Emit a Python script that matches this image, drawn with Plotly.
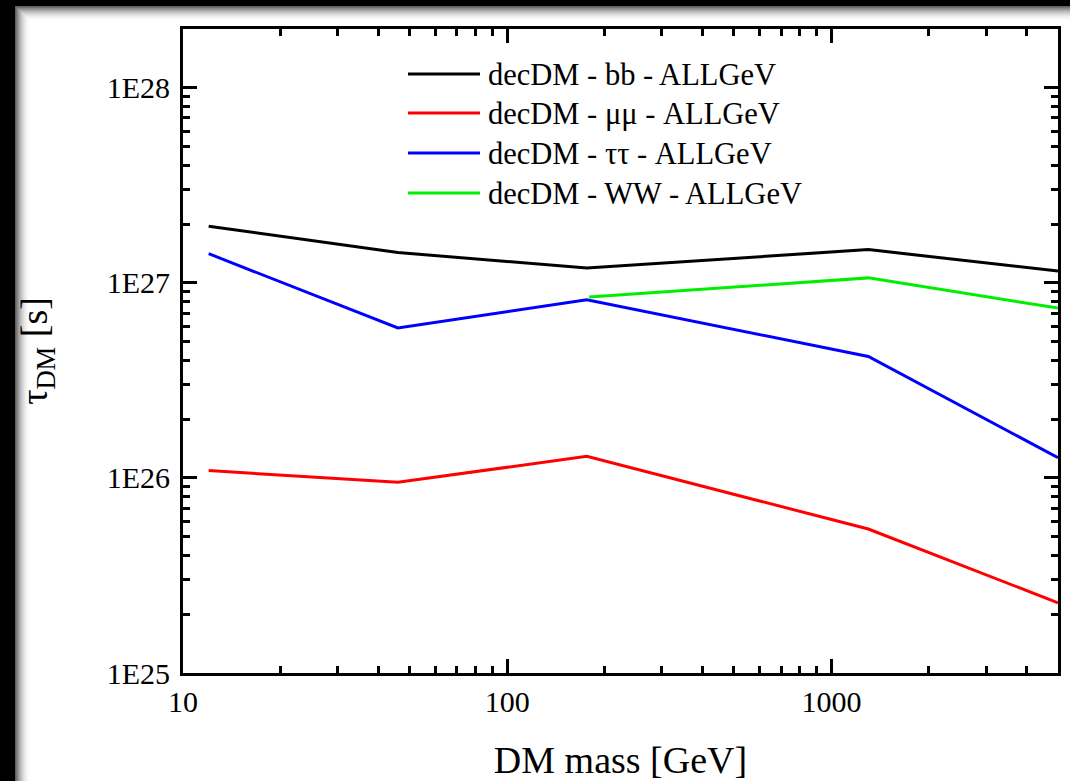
import plotly.graph_objects as go

# Dark-matter lifetime limits vs. mass for several decay channels
mass = [12, 46, 176, 1300, 5000]
tau_bb = [1.95e27, 1.43e27, 1.19e27, 1.48e27, 1.15e27]
tau_mumu = [1.09e26, 9.5e25, 1.29e26, 5.47e25, 2.29e25]
tau_tautau = [1.41e27, 5.87e26, 8.19e26, 4.19e26, 1.27e26]
mass_ww = [179, 1300, 5000]
tau_ww = [8.45e26, 1.06e27, 7.42e26]

series_names = [
    "decDM - bb - ALLGeV",
    "decDM - \u03bc\u03bc - ALLGeV",
    "decDM - \u03c4\u03c4 - ALLGeV",
    "decDM - WW - ALLGeV",
]
series_colors = ["#000000", "#ff0000", "#0000ff", "#00ee00"]

x_tickvals = [10, 100, 1000]
x_ticktext = ["10", "100", "1000"]
y_tickvals = [1e25, 1e26, 1e27, 1e28]
y_ticktext = ["1E25", "1E26", "1E27", "1E28"]

# minor ticks at 2..9 within each decade
x_minor = [float(m) * 10.0 ** e for e in (1, 2, 3) for m in range(2, 10)]
y_minor = [float(m) * 10.0 ** e for e in (25, 26, 27, 28) for m in range(2, 10)]

W, H = 1070, 781
ML, MR, MT, MB = 183, 12, 29, 108
PW, PH = W - ML - MR, H - MT - MB
FONT = "Liberation Serif"


def px_x(p):
    return (p - ML) / PW


def px_y(p):
    return (H - MB - p) / PH


fig = go.Figure()
series = [
    (mass, tau_bb),
    (mass, tau_mumu),
    (mass, tau_tautau),
    (mass_ww, tau_ww),
]
for (xs, ys), name, col in zip(series, series_names, series_colors):
    fig.add_trace(go.Scatter(x=xs, y=ys, mode="lines", name=name,
                             line=dict(color=col, width=3), showlegend=False))

shapes = []
annotations = []

# framed backdrop: dark strips with a soft grey shadow fading to white
shapes.append(dict(type="rect", xref="paper", yref="paper",
                   x0=px_x(-2), x1=px_x(15), y0=px_y(H + 2), y1=px_y(-2),
                   fillcolor="#000000", line_width=0, layer="below"))
shapes.append(dict(type="rect", xref="paper", yref="paper",
                   x0=px_x(-2), x1=px_x(W + 2), y0=px_y(6), y1=px_y(-2),
                   fillcolor="#000000", line_width=0, layer="below"))
steps = 15
for i in range(steps):
    t = i / steps
    g = int(0x60 + (0xff - 0x60) * (1 - (1 - t) ** 2))
    col = f"rgb({g},{g},{g})"
    shapes.append(dict(type="rect", xref="paper", yref="paper",
                       x0=px_x(15 + i), x1=px_x(16 + i), y0=px_y(H + 2), y1=px_y(6 + i),
                       fillcolor=col, line_width=0, layer="below"))
    shapes.append(dict(type="rect", xref="paper", yref="paper",
                       x0=px_x(15 + i), x1=px_x(W + 2), y0=px_y(7 + i), y1=px_y(6 + i),
                       fillcolor=col, line_width=0, layer="below"))

# legend drawn as line samples with labels
row_y = [74, 113, 153, 193]
for name, col, ry in zip(series_names, series_colors, row_y):
    shapes.append(dict(type="line", xref="paper", yref="paper",
                       x0=px_x(408), x1=px_x(480), y0=px_y(ry), y1=px_y(ry),
                       line=dict(color=col, width=3)))
    annotations.append(dict(xref="paper", yref="paper", x=px_x(486), y=px_y(ry + 1),
                            text=name, showarrow=False, xanchor="left", yanchor="middle",
                            font=dict(family=FONT, size=30.5, color="#000")))

axis_common = dict(
    type="log",
    automargin=False,
    showline=True, linecolor="#000", linewidth=3,
    mirror="allticks",
    ticks="inside", ticklen=14, tickwidth=3, tickcolor="#000",
    showgrid=False, zeroline=False,
    tickfont=dict(family=FONT, size=30, color="#000"),
)

fig.update_layout(
    width=W, height=H,
    margin=dict(l=ML, r=MR, t=MT, b=MB),
    paper_bgcolor="#ffffff", plot_bgcolor="#ffffff",
    font=dict(family=FONT),
    shapes=shapes, annotations=annotations,
    xaxis=dict(axis_common, range=[1, 3.69897], tickmode="array",
               tickvals=x_tickvals, ticktext=x_ticktext,
               minor=dict(tickmode="array", tickvals=x_minor, ticks="inside",
                          ticklen=7, tickwidth=2.5, tickcolor="#000", showgrid=False),
               title=dict(text="DM mass [GeV]", standoff=50,
                          font=dict(family=FONT, size=38, color="#000"))),
    yaxis=dict(axis_common, range=[25, 28.301], tickmode="array",
               tickvals=y_tickvals, ticktext=y_ticktext,
               ticklabelstandoff=4,
               minor=dict(tickmode="array", tickvals=y_minor, ticks="inside",
                          ticklen=7, tickwidth=2.5, tickcolor="#000", showgrid=False),
               title=dict(text="\u03c4<sub>DM</sub> [s]", standoff=48,
                          font=dict(family=FONT, size=38, color="#000"))),
)

fig.write_html("out.html")
